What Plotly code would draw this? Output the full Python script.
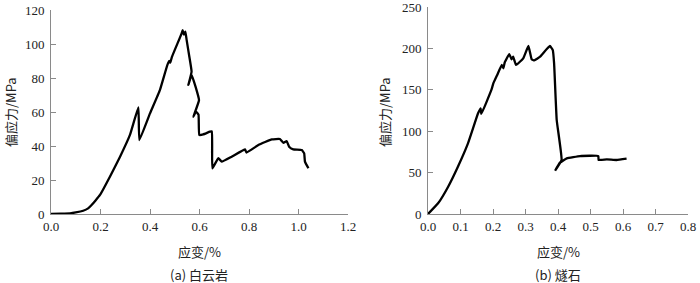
import plotly.graph_objects as go

# (a) dolomite
strain_a = [0.0, 0.04, 0.077, 0.10, 0.13, 0.15, 0.164, 0.18, 0.198, 0.238, 0.279, 0.319, 0.353,
            0.357, 0.40, 0.44, 0.47, 0.478, 0.482, 0.488, 0.528, 0.532, 0.537, 0.543, 0.548, 0.559, 0.568,
            0.555, 0.568, 0.598, 0.575, 0.586, 0.596, 0.599, 0.615, 0.642, 0.650, 0.652,
            0.676, 0.690, 0.730, 0.784, 0.790, 0.838, 0.892, 0.925, 0.939, 0.952, 0.962,
            0.979, 1.013, 1.023, 1.026, 1.040]
stress_a = [0.0, 0.2, 0.4, 0.9, 1.9, 3.3, 5.3, 8.0, 11.2, 21.9, 33.7, 46.5, 62.7,
            43.5, 59.2, 72.9, 87.6, 90.0, 89.0, 92.2, 106.3, 108.2, 105.5, 107.3, 102.4, 92.5, 83.7,
            75.9, 81.8, 67.0, 57.2, 60.2, 58.5, 46.5, 46.8, 48.4, 48.6, 26.9,
            32.8, 30.8, 33.7, 38.0, 36.1, 40.6, 43.9, 44.1, 41.9, 42.9, 39.6,
            38.0, 37.6, 35.7, 30.8, 26.9]

# (b) chert
strain_b = [0.0, 0.031, 0.062, 0.092, 0.123, 0.154, 0.162, 0.164, 0.195, 0.201, 0.213, 0.227, 0.232, 0.236,
            0.25, 0.257, 0.262, 0.271, 0.293, 0.309, 0.319, 0.327, 0.345, 0.375, 0.384, 0.388,
            0.396, 0.411, 0.391, 0.406, 0.427, 0.468, 0.524, 0.525, 0.55, 0.58, 0.611]
stress_b = [0.0, 12.9, 33.0, 57.1, 85.3, 121.6, 127.6, 120.8, 149.8, 157.8, 168.0, 180.0, 176.0, 183.0,
            193.2, 186.8, 190.0, 180.0, 188.0, 202.9, 186.8, 185.5, 190.0, 202.9, 198.0, 182.0,
            113.5, 65.2, 52.3, 62.0, 67.2, 70.0, 70.0, 65.2, 66.0, 65.2, 66.8]

xticks_a = [0.0, 0.2, 0.4, 0.6, 0.8, 1.0, 1.2]
yticks_a = [0, 20, 40, 60, 80, 100, 120]
xticks_b = [0.0, 0.1, 0.2, 0.3, 0.4, 0.5, 0.6, 0.7, 0.8]
yticks_b = [0, 50, 100, 150, 200, 250]

ylabel = "偏应力/MPa"
xlabel = "应变/%"
cap_a = "(a) 白云岩"
cap_b = "(b) 燧石"

W, H = 700, 283
SERIF = "Liberation Serif, Times New Roman, serif"
CJK = "Noto Sans CJK SC"

fig = go.Figure()
fig.add_trace(go.Scatter(x=strain_a, y=stress_a, mode="lines",
                         line=dict(color="black", width=2.3, shape="spline", smoothing=0.3),
                         xaxis="x", yaxis="y", showlegend=False, hoverinfo="skip"))
fig.add_trace(go.Scatter(x=strain_b, y=stress_b, mode="lines",
                         line=dict(color="black", width=2.3, shape="spline", smoothing=0.3),
                         xaxis="x2", yaxis="y2", showlegend=False, hoverinfo="skip"))

def px_x(p):
    return p / W

def px_y(p):
    return (H - p) / H

axis_common = dict(showgrid=False, zeroline=False, showline=True, linecolor="#8a8a8a",
                   linewidth=1, ticks="inside", ticklen=5, tickcolor="#8a8a8a", tickwidth=1,
                   automargin=False, ticklabeloverflow="allow",
                   tickfont=dict(family=SERIF, size=13, color="#222"))

fig.update_layout(
    template="none",
    width=W, height=H,
    margin=dict(l=0, r=0, t=0, b=0, autoexpand=False),
    paper_bgcolor="white", plot_bgcolor="white",
    font=dict(family=SERIF, size=13, color="#222"),
    xaxis=dict(domain=[px_x(51), px_x(348)], range=[0, 1.2], tickvals=xticks_a,
               tickformat=".1f", anchor="y", **axis_common),
    yaxis=dict(domain=[px_y(214), px_y(10)], range=[0, 120], tickvals=yticks_a,
               anchor="x", ticklabelstandoff=3, **axis_common),
    xaxis2=dict(domain=[px_x(428), px_x(688)], range=[0, 0.8], tickvals=xticks_b,
                tickformat=".1f", anchor="y2", **axis_common),
    yaxis2=dict(domain=[px_y(214), px_y(7)], range=[0, 250], tickvals=yticks_b,
                anchor="x2", ticklabelstandoff=3, **axis_common),
)

ann_font = dict(family=CJK, size=13, color="#222")
for (x, y, t, ang) in [(10, 112, ylabel, -90), (384, 112, ylabel, -90),
                       (199, 251, xlabel, 0), (558, 251, xlabel, 0),
                       (199, 274, cap_a, 0), (558, 274, cap_b, 0)]:
    fig.add_annotation(x=px_x(x), y=px_y(y), xref="paper", yref="paper", text=t,
                       showarrow=False, textangle=ang, font=ann_font,
                       xanchor="center", yanchor="middle")

fig.write_html("out.html", config={"displayModeBar": False, "staticPlot": True},
               post_script="document.body.style.margin='0';document.body.style.overflow='hidden';")
